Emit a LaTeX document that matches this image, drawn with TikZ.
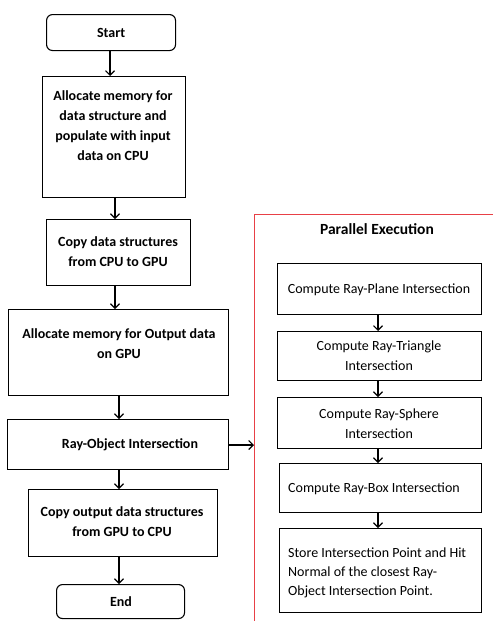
\documentclass[tikz,border=0pt]{standalone}
\usepackage{fontspec}
\setmainfont{Carlito}
\usetikzlibrary{arrows.meta}
\definecolor{framered}{RGB}{232,64,70}
\tikzset{
  box/.style={draw=black, line width=1.1pt, rectangle, anchor=north west, inner sep=0pt},
  term/.style={box, rounded corners=6pt},
  txt/.style={font=\fontsize{14}{20}\selectfont\bfseries, align=center, inner sep=0pt},
  ptxt/.style={font=\fontsize{14}{20}\selectfont, align=center, inner sep=0pt},
  flow/.style={draw=black, line width=1.1pt, -{Straight Barb[length=4.5pt,width=9pt,line width=1.1pt]}},
}
\begin{document}
\begin{tikzpicture}[x=1pt,y=-1pt]
\useasboundingbox (0,0) rectangle (493,621);

% main column
\node[term, minimum width=129pt, minimum height=36pt] (start) at (46,14) {};
\node[txt] at (start.center) {Start};

\node[box, minimum width=143pt, minimum height=121pt] (alloc) at (42,76) {};
\node[txt, anchor=north] at (113,90) {Allocate memory for\\data structure and\\populate with input\\data on CPU};

\node[box, minimum width=144pt, minimum height=66pt] (copyin) at (46,219) {};
\node[txt] at (118,252) {Copy data structures\\from CPU to GPU};

\node[box, minimum width=220pt, minimum height=86pt] (allocout) at (8,309) {};
\node[txt, anchor=north] at (119,328) {Allocate memory for Output data\\on GPU};

\node[box, minimum width=221pt, minimum height=50pt] (rayobj) at (7,419) {};
\node[txt] at (130,445) {Ray-Object Intersection};

\node[box, minimum width=189pt, minimum height=67pt] (copyout) at (28,489) {};
\node[txt] at (122,522) {Copy output data structures\\from GPU to CPU};

\node[term, minimum width=128pt, minimum height=34pt] (end) at (56,584) {};
\node[txt] at (121,602) {End};

\draw[flow] (start.south -| 110,0) -- (alloc.north -| 110,0);
\draw[flow] (alloc.south -| 115,0) -- (copyin.north -| 115,0);
\draw[flow] (copyin.south -| 115,0) -- (allocout.north -| 115,0);
\draw[flow] (allocout.south -| 119,0) -- (rayobj.north -| 119,0);
\draw[flow] (rayobj.south -| 119,0) -- (copyout.north -| 119,0);
\draw[flow] (copyout.south -| 119,0) -- (end.north -| 119,0);

% parallel execution frame
\coordinate (framein) at (254,445);
\draw[framered, line width=0.9pt] (254,621) -- (254,214) -- (493,214);
\node[txt, font=\fontsize{15.5}{20}\selectfont\bfseries] at (377,229) {Parallel Execution};
\draw[flow] (rayobj.east |- framein) -- (framein);

\node[box, minimum width=204pt, minimum height=51pt] (plane) at (277,263) {};
\node[ptxt] at (379,290) {Compute Ray-Plane Intersection};

\node[box, minimum width=204pt, minimum height=49pt] (tri) at (277,331) {};
\node[ptxt] at (379,356) {Compute Ray-Triangle\\Intersection};

\node[box, minimum width=204pt, minimum height=51pt] (sphere) at (277,397) {};
\node[ptxt] at (379,424) {Compute Ray-Sphere\\Intersection};

\node[box, minimum width=202pt, minimum height=49pt] (boxint) at (279,463) {};
\node[ptxt, anchor=west] at (288,489) {Compute Ray-Box Intersection};

\node[box, minimum width=202pt, minimum height=84pt] (store) at (279,528) {};
\node[ptxt, anchor=west, align=left, font=\fontsize{14}{19}\selectfont] at (288,573) {Store Intersection Point and Hit\\Normal of the closest Ray-\\Object Intersection Point.};

\draw[flow] (plane.south -| 378,0) -- (tri.north -| 378,0);
\draw[flow] (tri.south -| 378,0) -- (sphere.north -| 378,0);
\draw[flow] (sphere.south -| 378,0) -- (boxint.north -| 378,0);
\draw[flow] (boxint.south -| 378,0) -- (store.north -| 378,0);
\end{tikzpicture}
\end{document}
